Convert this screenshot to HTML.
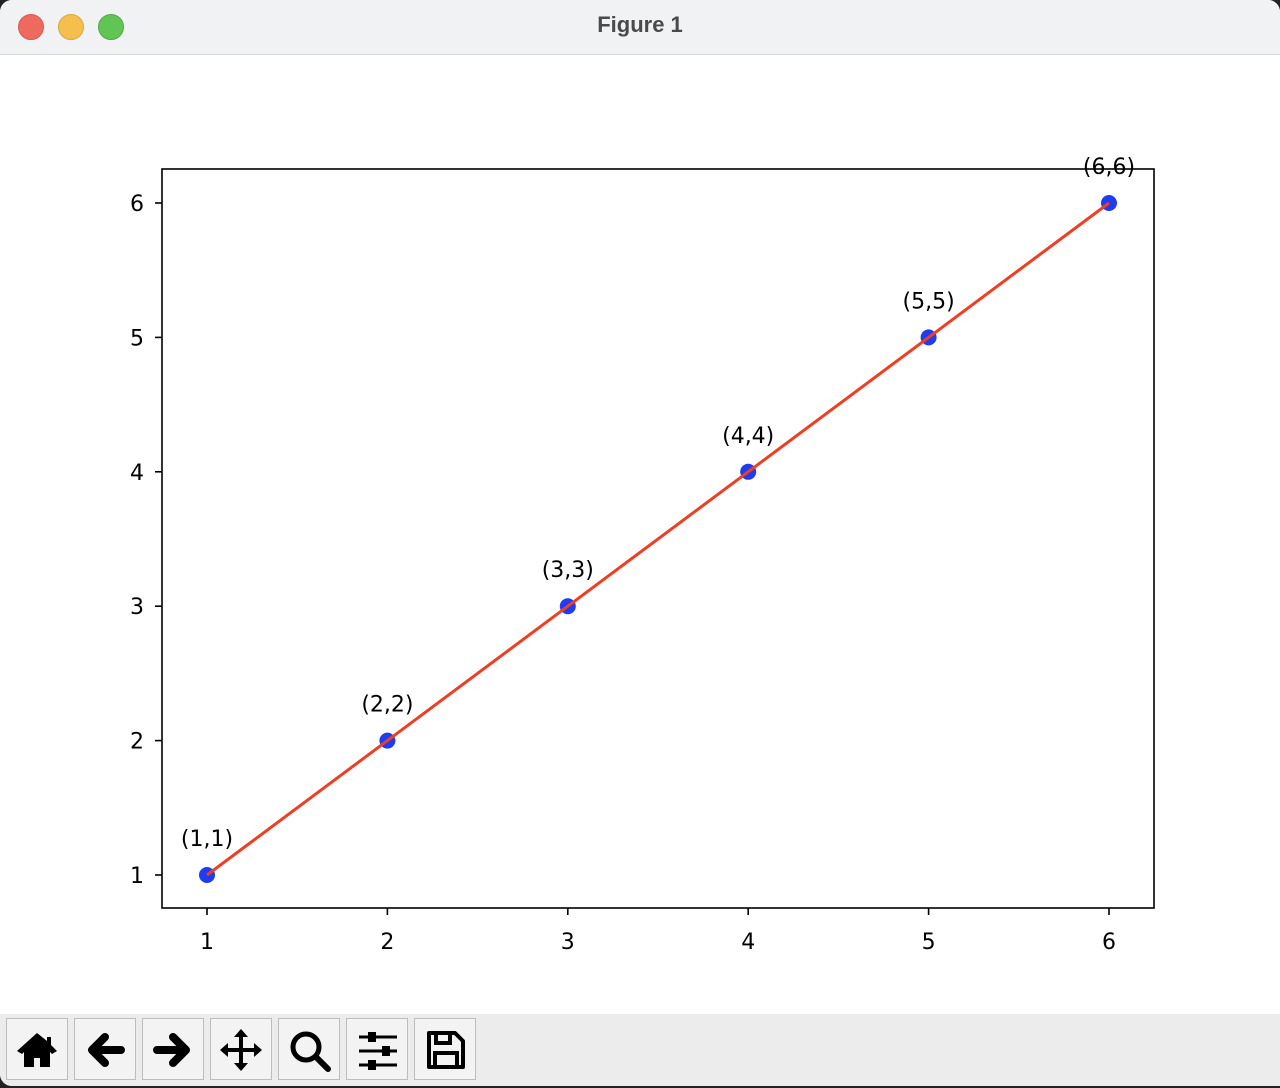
<!DOCTYPE html>
<html><head><meta charset="utf-8"><style>
body{margin:0;width:1280px;height:1088px;overflow:hidden;background:#222;font-family:"Liberation Sans",sans-serif}
#win{position:absolute;left:0;top:0;width:1280px;height:1086px;background:#fff;border-radius:12px 12px 0 12px;overflow:hidden}
#title{position:absolute;left:0;top:0;width:1280px;height:54px;background:#f1f2f4;border-bottom:1px solid #d6d6d6}
.dot{position:absolute;top:14px;width:24px;height:24px;border-radius:50%}
#ttext{position:absolute;left:0;width:1280px;top:12px;text-align:center;font-weight:bold;font-size:22px;color:#4a4a4a}
#tb{position:absolute;left:0;top:1014px;width:1280px;height:72px;background:#ececec}
.btn{position:absolute;top:4px;width:62px;height:62px;border:1px solid #bdbdbd;background:#f3f3f3;box-sizing:border-box}
#chart text{font-family:"DejaVu Sans","Liberation Sans",sans-serif}
</style></head><body>
<div id="win">
<div id="title">
<div class="dot" style="left:18px;background:#ee6a5f;border:1px solid #d85a50"></div>
<div class="dot" style="left:58px;background:#f5bf4f;border:1px solid #d9a640"></div>
<div class="dot" style="left:98px;background:#61c554;border:1px solid #52a845"></div>
<div id="ttext">Figure 1</div>
</div>
<svg id="chart" width="1280" height="1014" style="position:absolute;left:0;top:0"></svg>
<div id="tb">
<div class="btn" style="left:6px"><svg width="60" height="60"><path d="M30 14 L10 32 L15 35 L17 33 L17 48 L27 48 L27 39 L33 39 L33 48 L43 48 L43 33 L45 35 L50 32 L44 26 L44 18 L40 18 L40 22 Z" fill="#000"/></svg></div>
<div class="btn" style="left:74px"><svg width="60" height="60"><path d="M46 31 L18 31 M30 18 L17 31 L30 44" stroke="#000" stroke-width="8" stroke-linecap="round" stroke-linejoin="round" fill="none"/></svg></div>
<div class="btn" style="left:142px"><svg width="60" height="60"><path d="M14 31 L42 31 M30 18 L43 31 L30 44" stroke="#000" stroke-width="8" stroke-linecap="round" stroke-linejoin="round" fill="none"/></svg></div>
<div class="btn" style="left:210px"><svg width="60" height="60"><path d="M30 12 V50 M11 31 H49" stroke="#000" stroke-width="4"/><path d="M30 10 L23 18 H37Z M30 52 L23 44 H37Z M9 31 L17 24 V38Z M51 31 L43 24 V38Z" fill="#000"/></svg></div>
<div class="btn" style="left:278px"><svg width="60" height="60"><circle cx="27" cy="28" r="13" stroke="#000" stroke-width="5" fill="none"/><path d="M37 38 L49 50" stroke="#000" stroke-width="6" stroke-linecap="round"/></svg></div>
<div class="btn" style="left:346px"><svg width="60" height="60"><path d="M12 18 H50 M12 32 H50 M12 46 H50" stroke="#000" stroke-width="3"/><rect x="21" y="13" width="8" height="10" fill="#000"/><rect x="35" y="27" width="8" height="10" fill="#000"/><rect x="21" y="41" width="8" height="10" fill="#000"/></svg></div>
<div class="btn" style="left:414px"><svg width="60" height="60"><path d="M14 14 H40 L48 22 V48 H14 Z" stroke="#000" stroke-width="4" fill="none" stroke-linejoin="round"/><rect x="21" y="14" width="14" height="10" fill="none" stroke="#000" stroke-width="4"/><rect x="20" y="34" width="22" height="14" fill="none" stroke="#000" stroke-width="4"/></svg></div>
</div>
</div>
<script>
const xs=[1,2,3,4,5,6];
const ys=[1,2,3,4,5,6];
const labels=["(1,1)","(2,2)","(3,3)","(4,4)","(5,5)","(6,6)"];
const xticks=[1,2,3,4,5,6];
const yticks=[1,2,3,4,5,6];
const NS="http://www.w3.org/2000/svg";
const svg=document.getElementById('chart');
const L=162,R=1154,T=169,B=908;
const X=v=>207+(v-1)*(1109-207)/5;
const Y=v=>875-(v-1)*(875-203)/5;
function mk(t,a,p){const e=document.createElementNS(NS,t);for(const k in a)e.setAttribute(k,a[k]);(p||svg).appendChild(e);return e;}
const frame=mk('rect',{x:L,y:T,width:R-L,height:B-T,fill:'none',stroke:'#000','stroke-width':1.6});


xticks.forEach(v=>{const x=X(v);
const tk=mk('line',{x1:x,x2:x,y1:B,y2:B+7,stroke:'#000','stroke-width':1.6});


const t=mk('text',{x:x,y:B+41,'text-anchor':'middle','font-size':22,fill:'#000'});t.textContent=v;

});
yticks.forEach(v=>{const y=Y(v);
const tk=mk('line',{x1:L-7,x2:L,y1:y,y2:y,stroke:'#000','stroke-width':1.6});


const t=mk('text',{x:L-18,y:y+8,'text-anchor':'end','font-size':22,fill:'#000'});t.textContent=v;

});
xs.forEach((v,i)=>{const c=mk('circle',{cx:X(v),cy:Y(ys[i]),r:8,fill:'#1f3cf0'});


const t=mk('text',{x:X(v),y:Y(ys[i])-29,'text-anchor':'middle','font-size':22,fill:'#000'});t.textContent=labels[i];

});
const line=mk('polyline',{points:xs.map((v,i)=>X(v)+','+Y(ys[i])).join(' '),fill:'none',stroke:'#ee3f24','stroke-width':3});


</script>
</body></html>
